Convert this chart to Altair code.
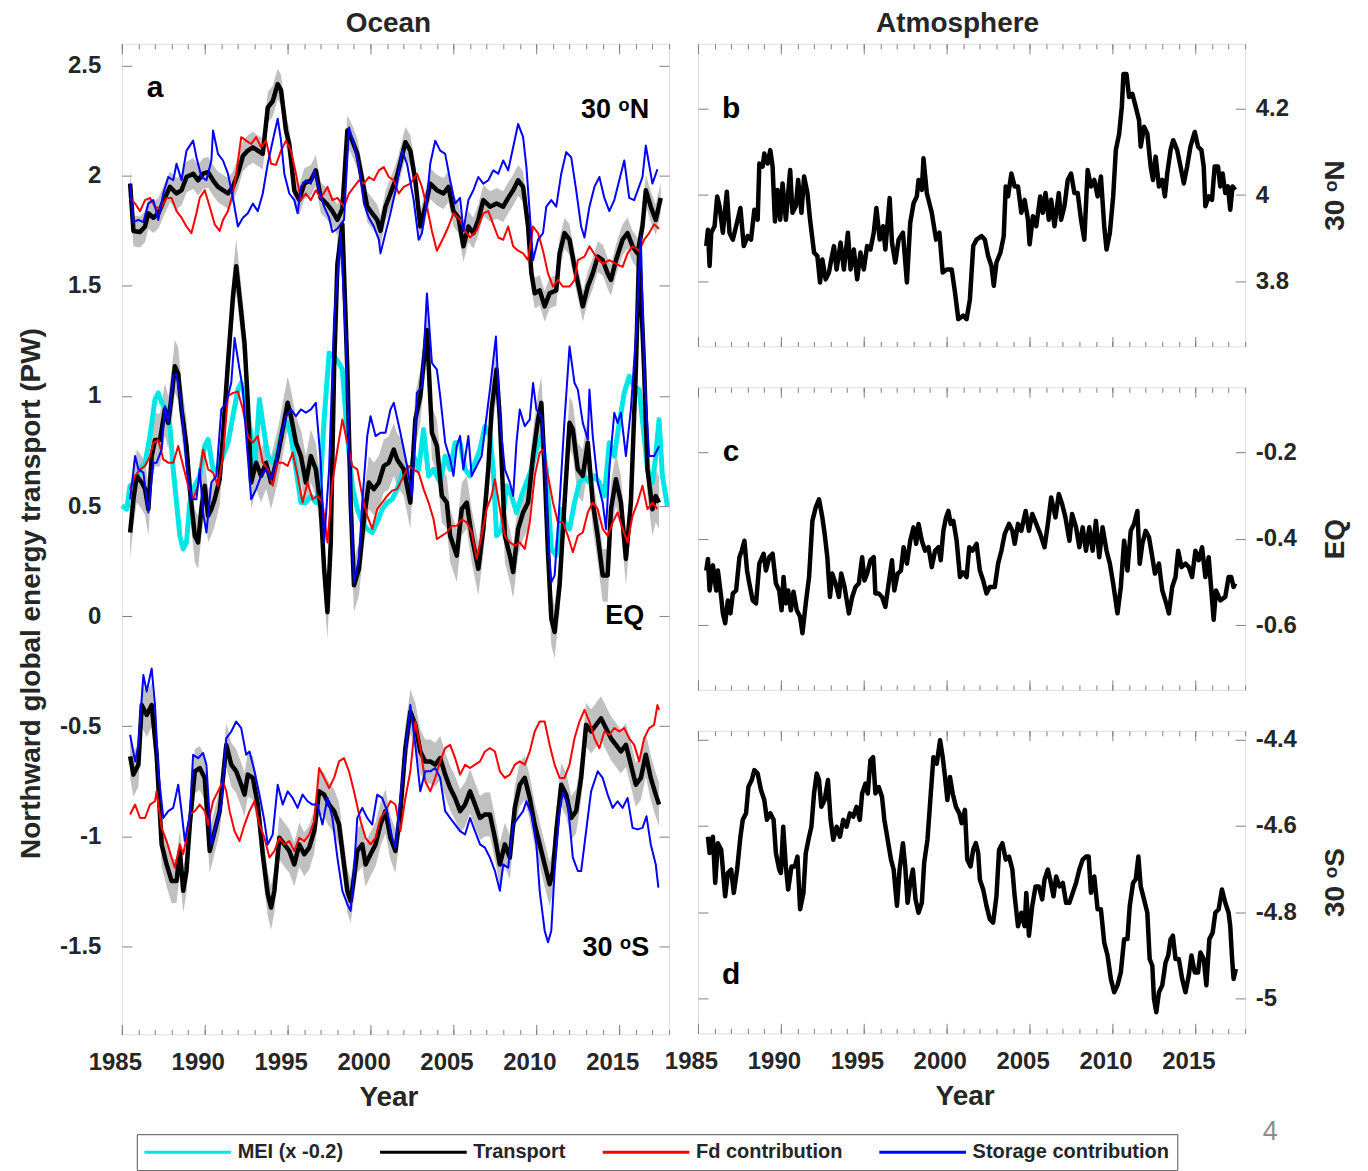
import altair as alt
import pandas as pd

FONT = "Liberation Sans"
TXT = "#262626"
AXC = "#7f7f7f"

# ---------------- axes / categories ----------------
X_DOMAIN = [1985, 2018]
YEAR_MAJOR = [1985, 1990, 1995, 2000, 2005, 2010, 2015]
YEAR_MINOR = list(range(1985, 2019))
OCEAN_Y_DOMAIN = [-1.9, 2.6]
OCEAN_Y_TICKS = [-1.5, -1, -0.5, 0, 0.5, 1, 1.5, 2, 2.5]
ATM_B_DOMAIN = [3.65, 4.35]
ATM_B_TICKS = [3.8, 4, 4.2]
ATM_C_DOMAIN = [-0.75, -0.05]
ATM_C_TICKS = [-0.6, -0.4, -0.2]
ATM_D_DOMAIN = [-5.08, -4.38]
ATM_D_TICKS = [-5, -4.8, -4.6, -4.4]

SERIES = ["MEI (x -0.2)", "Transport", "Fd contribution", "Storage contribution"]
COLORS = ["#00e6e6", "#000000", "#ff0000", "#0000ff"]
BAND_HALF = {"30N": 0.07, "EQ": 0.12, "30S": 0.10}

# ---------------- ocean, 30N ----------------
T_30N = [(1985.5,1.965),(1985.7,1.75),(1986.1,1.745),(1986.4,1.77),(1986.6,1.83),(1986.9,1.81),(1987.2,1.83),(1987.6,1.90),(1987.9,1.95),(1988.3,1.92),(1988.6,1.935),(1988.9,1.995),(1989.3,2.01),(1989.6,1.98),(1989.9,2.01),(1990.2,2.017),(1990.5,1.98),(1990.8,1.95),(1991.1,1.935),(1991.4,1.92),(1991.7,1.95),(1992.0,2.01),(1992.3,2.09),(1992.6,2.115),(1992.9,2.13),(1993.2,2.115),(1993.5,2.10),(1993.8,2.31),(1994.1,2.34),(1994.4,2.417),(1994.6,2.39),(1994.9,2.206),(1995.1,2.145),(1995.4,1.935),(1995.7,1.89),(1996.0,1.965),(1996.4,1.98),(1996.7,2.025),(1997.0,1.90),(1997.4,1.87),(1997.7,1.84),(1998.0,1.80),(1998.3,1.85),(1998.6,2.206),(1998.9,2.16),(1999.2,2.10),(1999.5,1.98),(1999.8,1.86),(2000.1,1.83),(2000.4,1.80),(2000.6,1.75),(2000.9,1.86),(2001.2,1.92),(2001.6,2.0),(2002.1,2.153),(2002.4,2.115),(2002.7,1.98),(2003.0,1.77),(2003.3,1.86),(2003.6,1.965),(2004.0,1.935),(2004.4,1.92),(2004.7,1.95),(2005.0,1.84),(2005.3,1.81),(2005.6,1.68),(2005.9,1.77),(2006.2,1.74),(2006.5,1.80),(2006.8,1.89),(2007.2,1.86),(2007.6,1.875),(2008.0,1.86),(2008.3,1.90),(2008.6,1.935),(2008.9,1.98),(2009.2,1.95),(2009.5,1.77),(2009.7,1.557),(2009.9,1.467),(2010.2,1.48),(2010.5,1.407),(2010.8,1.467),(2011.2,1.48),(2011.4,1.648),(2011.7,1.74),(2012.0,1.71),(2012.3,1.587),(2012.6,1.48),(2012.8,1.407),(2013.1,1.497),(2013.4,1.557),(2013.7,1.633),(2014.0,1.617),(2014.3,1.557),(2014.5,1.527),(2014.8,1.617),(2015.2,1.71),(2015.5,1.74),(2015.8,1.68),(2016.1,1.648),(2016.4,1.77),(2016.6,1.935),(2016.9,1.86),(2017.2,1.80),(2017.5,1.90)]
F_30N = [(1985.5,1.90),(1985.8,1.874),(1986.1,1.84),(1986.4,1.89),(1986.7,1.90),(1987.0,1.86),(1987.3,1.85),(1987.7,1.90),(1988.0,1.90),(1988.3,1.84),(1988.6,1.81),(1988.9,1.77),(1989.2,1.74),(1989.5,1.83),(1989.7,1.90),(1990.0,1.935),(1990.3,1.86),(1990.6,1.78),(1990.9,1.75),(1991.1,1.80),(1991.4,1.84),(1991.7,1.92),(1991.9,2.01),(1992.2,2.176),(1992.5,2.16),(1992.8,2.145),(1993.1,2.176),(1993.4,2.13),(1993.7,2.16),(1994.0,2.055),(1994.3,2.05),(1994.6,2.115),(1994.9,2.16),(1995.2,2.115),(1995.5,2.01),(1995.8,1.89),(1996.1,1.92),(1996.4,1.89),(1996.7,1.935),(1997.0,1.90),(1997.4,1.95),(1997.7,1.89),(1998.0,1.90),(1998.4,1.86),(1998.7,1.92),(1999.0,1.95),(1999.3,1.98),(1999.6,1.965),(1999.9,1.995),(2000.2,1.98),(2000.5,2.025),(2000.8,2.04),(2001.1,1.995),(2001.4,1.98),(2001.7,1.92),(2002.0,1.95),(2002.4,1.965),(2002.8,2.01),(2003.1,1.95),(2003.4,1.86),(2003.7,1.75),(2004.0,1.66),(2004.4,1.72),(2004.7,1.77),(2005.0,1.83),(2005.4,1.80),(2005.7,1.75),(2006.0,1.72),(2006.4,1.75),(2006.8,1.83),(2007.1,1.84),(2007.4,1.78),(2007.7,1.72),(2008.0,1.71),(2008.3,1.77),(2008.6,1.68),(2008.9,1.66),(2009.2,1.648),(2009.5,1.617),(2009.8,1.77),(2010.1,1.74),(2010.4,1.66),(2010.7,1.557),(2011.0,1.497),(2011.3,1.527),(2011.6,1.497),(2012.0,1.497),(2012.3,1.527),(2012.5,1.617),(2012.9,1.633),(2013.2,1.68),(2013.6,1.633),(2014.0,1.60),(2014.4,1.617),(2014.8,1.60),(2015.2,1.587),(2015.5,1.648),(2015.8,1.68),(2016.2,1.66),(2016.5,1.71),(2016.8,1.74),(2017.1,1.78),(2017.4,1.76)]
S_30N = [(1985.5,1.965),(1985.7,1.79),(1986.0,1.80),(1986.3,1.79),(1986.6,1.874),(1986.9,1.89),(1987.2,1.80),(1987.5,1.92),(1987.8,1.995),(1988.1,1.98),(1988.3,2.055),(1988.6,1.98),(1988.9,2.115),(1989.3,2.16),(1989.5,2.085),(1989.8,1.995),(1990.1,1.98),(1990.4,2.07),(1990.5,2.206),(1990.8,2.10),(1991.1,2.07),(1991.4,2.01),(1991.7,1.90),(1992.0,1.77),(1992.3,1.81),(1992.6,1.83),(1992.9,1.874),(1993.2,1.84),(1993.5,1.92),(1993.8,2.055),(1994.1,2.16),(1994.4,2.26),(1994.6,2.16),(1994.8,2.01),(1995.1,1.92),(1995.4,1.89),(1995.6,1.83),(1995.8,1.95),(1996.1,1.98),(1996.4,1.965),(1996.6,2.025),(1996.9,1.935),(1997.2,1.86),(1997.5,1.81),(1997.7,1.745),(1998.0,1.76),(1998.4,1.80),(1998.7,2.22),(1999.0,2.145),(1999.3,2.04),(1999.6,1.874),(1999.9,1.81),(2000.2,1.77),(2000.5,1.71),(2000.6,1.648),(2000.9,1.74),(2001.2,1.83),(2001.6,1.965),(2001.9,2.115),(2002.2,2.055),(2002.6,1.89),(2002.9,1.71),(2003.1,1.74),(2003.4,1.89),(2003.6,2.055),(2003.9,2.16),(2004.2,2.115),(2004.5,2.10),(2004.8,1.98),(2005.1,1.874),(2005.4,1.90),(2005.6,1.75),(2005.9,1.89),(2006.2,1.935),(2006.5,1.995),(2006.8,1.965),(2007.1,1.98),(2007.4,2.025),(2007.7,2.01),(2008.0,2.07),(2008.3,2.025),(2008.6,2.13),(2008.9,2.236),(2009.2,2.176),(2009.4,2.04),(2009.6,1.83),(2009.8,1.617),(2010.1,1.71),(2010.4,1.74),(2010.6,1.86),(2010.9,1.89),(2011.2,1.86),(2011.5,2.01),(2011.8,2.108),(2012.1,2.085),(2012.4,1.935),(2012.7,1.77),(2012.9,1.72),(2013.2,1.86),(2013.5,1.95),(2013.8,1.995),(2014.1,1.90),(2014.4,1.84),(2014.7,1.89),(2015.0,1.98),(2015.3,2.07),(2015.6,1.90),(2015.9,1.89),(2016.4,1.995),(2016.6,2.138),(2017.0,1.965),(2017.3,2.03)]

# ---------------- ocean, EQ ----------------
MEI_EQ = [(1985.0,0.501),(1985.3,0.486),(1985.5,0.592),(1985.8,0.607),(1986.1,0.667),(1986.4,0.697),(1986.7,0.818),(1987.0,0.984),(1987.2,1.014),(1987.4,0.969),(1987.7,0.939),(1987.9,0.863),(1988.1,0.667),(1988.3,0.516),(1988.5,0.365),(1988.7,0.305),(1988.9,0.335),(1989.1,0.516),(1989.4,0.592),(1989.7,0.637),(1990.0,0.773),(1990.2,0.803),(1990.5,0.667),(1990.8,0.667),(1991.1,0.727),(1991.4,0.788),(1991.7,0.908),(1992.0,1.029),(1992.2,1.059),(1992.5,0.969),(1992.8,0.818),(1993.0,0.667),(1993.3,0.984),(1993.5,0.878),(1993.8,0.727),(1994.1,0.697),(1994.4,0.757),(1994.7,0.848),(1995.0,0.878),(1995.2,0.818),(1995.5,0.667),(1995.8,0.516),(1996.1,0.516),(1996.4,0.546),(1996.7,0.516),(1997.0,0.637),(1997.2,0.893),(1997.5,1.195),(1997.8,1.18),(1998.1,1.15),(1998.3,1.12),(1998.6,0.818),(1998.9,0.592),(1999.2,0.486),(1999.5,0.426),(1999.8,0.396),(2000.1,0.38),(2000.4,0.426),(2000.7,0.486),(2001.0,0.516),(2001.3,0.53),(2001.6,0.577),(2002.0,0.667),(2002.3,0.607),(2002.6,0.727),(2002.9,0.667),(2003.2,0.848),(2003.5,0.637),(2003.8,0.667),(2004.2,0.607),(2004.5,0.727),(2004.8,0.667),(2005.1,0.788),(2005.4,0.788),(2005.7,0.667),(2006.0,0.637),(2006.3,0.697),(2006.6,0.757),(2006.9,0.863),(2007.2,0.818),(2007.4,0.667),(2007.6,0.365),(2007.9,0.396),(2008.2,0.592),(2008.5,0.546),(2008.8,0.471),(2009.1,0.546),(2009.4,0.607),(2009.7,0.667),(2010.0,0.757),(2010.3,0.818),(2010.6,0.667),(2010.9,0.305),(2011.2,0.275),(2011.5,0.486),(2011.7,0.426),(2012.0,0.396),(2012.3,0.516),(2012.6,0.607),(2012.9,0.637),(2013.2,0.607),(2013.5,0.637),(2013.8,0.607),(2014.1,0.546),(2014.4,0.788),(2014.7,0.727),(2015.0,0.878),(2015.3,1.014),(2015.6,1.09),(2015.9,1.044),(2016.2,1.029),(2016.5,0.818),(2016.7,0.667),(2017.0,0.607),(2017.2,0.727),(2017.4,0.893),(2017.6,0.637),(2017.9,0.501)]
T_EQ = [(1985.5,0.38),(1985.7,0.53),(1985.9,0.637),(1986.2,0.607),(1986.4,0.577),(1986.6,0.486),(1986.8,0.727),(1987.0,0.80),(1987.3,0.80),(1987.6,0.939),(1987.8,0.878),(1988.0,0.999),(1988.2,1.135),(1988.4,1.10),(1988.6,0.939),(1988.9,0.773),(1989.1,0.577),(1989.4,0.365),(1989.6,0.335),(1989.8,0.486),(1990.0,0.592),(1990.2,0.456),(1990.4,0.486),(1990.6,0.531),(1990.9,0.622),(1991.1,0.818),(1991.4,1.15),(1991.7,1.451),(1991.9,1.59),(1992.1,1.45),(1992.4,1.24),(1992.6,0.969),(1992.8,0.607),(1993.1,0.697),(1993.4,0.637),(1993.7,0.697),(1994.0,0.607),(1994.4,0.727),(1994.7,0.848),(1995.0,0.969),(1995.2,0.908),(1995.5,0.788),(1995.8,0.727),(1996.1,0.607),(1996.4,0.727),(1996.7,0.667),(1997.0,0.486),(1997.2,0.215),(1997.4,0.018),(1997.6,0.335),(1997.8,1.12),(1998.0,1.6),(1998.3,1.78),(1998.6,1.12),(1998.8,0.516),(1999.0,0.14),(1999.3,0.215),(1999.6,0.44),(1999.9,0.607),(2000.2,0.577),(2000.5,0.607),(2000.8,0.682),(2001.1,0.697),(2001.4,0.757),(2001.6,0.712),(2002.0,0.667),(2002.4,0.516),(2002.7,0.893),(2003.0,0.999),(2003.4,1.30),(2003.7,0.833),(2004.0,0.773),(2004.3,0.546),(2004.6,0.516),(2004.8,0.365),(2005.2,0.275),(2005.5,0.486),(2005.8,0.516),(2006.1,0.365),(2006.5,0.215),(2006.8,0.396),(2007.1,0.667),(2007.3,0.939),(2007.6,1.12),(2007.8,0.893),(2008.1,0.365),(2008.4,0.275),(2008.6,0.2),(2008.9,0.396),(2009.2,0.471),(2009.5,0.516),(2009.8,0.727),(2010.1,0.893),(2010.3,0.969),(2010.5,0.667),(2010.7,0.29),(2010.9,-0.012),(2011.1,-0.072),(2011.4,0.14),(2011.7,0.516),(2012.0,0.878),(2012.2,0.848),(2012.5,0.667),(2012.8,0.637),(2013.1,0.788),(2013.4,0.516),(2013.7,0.365),(2014.0,0.185),(2014.3,0.185),(2014.5,0.486),(2014.8,0.622),(2015.1,0.516),(2015.4,0.26),(2015.7,0.516),(2016.0,1.12),(2016.2,1.66),(2016.5,1.12),(2016.7,0.667),(2017.0,0.486),(2017.2,0.546),(2017.4,0.516)]
F_EQ = [(1985.5,0.577),(1985.8,0.637),(1986.1,0.667),(1986.4,0.682),(1986.7,0.727),(1986.9,0.788),(1987.2,0.80),(1987.5,0.712),(1987.8,0.697),(1988.1,0.697),(1988.4,0.773),(1988.7,0.682),(1989.0,0.592),(1989.3,0.531),(1989.6,0.592),(1989.9,0.757),(1990.2,0.667),(1990.5,0.652),(1990.8,0.592),(1991.1,0.727),(1991.4,0.999),(1991.7,1.014),(1992.0,1.02),(1992.3,0.939),(1992.6,0.818),(1992.9,0.788),(1993.2,0.818),(1993.5,0.697),(1993.8,0.667),(1994.1,0.592),(1994.4,0.697),(1994.7,0.697),(1995.0,0.682),(1995.3,0.742),(1995.6,0.637),(1995.9,0.516),(1996.2,0.607),(1996.5,0.531),(1996.8,0.546),(1997.1,0.516),(1997.4,0.335),(1997.7,0.607),(1998.0,0.757),(1998.3,0.893),(1998.6,0.788),(1998.9,0.682),(1999.2,0.667),(1999.5,0.546),(1999.8,0.456),(2000.1,0.396),(2000.4,0.486),(2000.7,0.516),(2001.0,0.546),(2001.3,0.57),(2001.6,0.577),(2002.0,0.637),(2002.3,0.682),(2002.6,0.667),(2002.9,0.652),(2003.2,0.577),(2003.5,0.516),(2003.8,0.44),(2004.0,0.35),(2004.3,0.365),(2004.6,0.38),(2004.9,0.41),(2005.2,0.41),(2005.5,0.44),(2005.8,0.426),(2006.1,0.38),(2006.4,0.26),(2006.7,0.365),(2007.0,0.486),(2007.3,0.546),(2007.5,0.622),(2007.8,0.486),(2008.1,0.365),(2008.4,0.335),(2008.7,0.32),(2009.0,0.335),(2009.3,0.305),(2009.6,0.426),(2009.9,0.637),(2010.2,0.742),(2010.4,0.757),(2010.7,0.637),(2011.0,0.516),(2011.3,0.426),(2011.6,0.426),(2011.9,0.365),(2012.2,0.29),(2012.5,0.365),(2012.8,0.38),(2013.1,0.471),(2013.4,0.516),(2013.7,0.486),(2014.0,0.396),(2014.3,0.365),(2014.6,0.426),(2014.9,0.471),(2015.2,0.396),(2015.5,0.335),(2015.8,0.456),(2016.1,0.516),(2016.4,0.592),(2016.7,0.486),(2017.0,0.516),(2017.3,0.486)]
S_EQ = [(1985.5,0.531),(1985.8,0.727),(1986.0,0.667),(1986.3,0.652),(1986.6,0.471),(1986.9,0.697),(1987.1,0.697),(1987.4,0.757),(1987.6,0.954),(1987.8,0.878),(1988.1,1.09),(1988.3,1.10),(1988.6,0.954),(1988.9,0.682),(1989.2,0.531),(1989.5,0.531),(1989.7,0.667),(1989.9,0.471),(1990.1,0.38),(1990.4,0.607),(1990.7,0.637),(1991.0,0.939),(1991.3,0.969),(1991.6,1.06),(1991.8,1.263),(1992.1,1.12),(1992.3,1.03),(1992.5,0.818),(1992.8,0.531),(1993.1,0.577),(1993.4,0.637),(1993.7,0.667),(1994.0,0.622),(1994.3,0.697),(1994.6,0.818),(1994.9,0.908),(1995.2,0.939),(1995.5,0.908),(1995.8,0.939),(1996.1,0.924),(1996.4,0.939),(1996.7,0.969),(1997.0,0.697),(1997.2,0.335),(1997.5,0.667),(1997.8,1.346),(1998.2,1.74),(1998.5,1.27),(1998.8,0.516),(1999.0,0.154),(1999.3,0.26),(1999.5,0.516),(1999.8,0.818),(2000.0,0.908),(2000.3,0.818),(2000.6,0.833),(2000.9,0.833),(2001.2,0.939),(2001.4,0.969),(2001.8,0.833),(2002.2,0.682),(2002.5,0.546),(2002.8,1.014),(2003.1,1.044),(2003.4,1.466),(2003.7,1.15),(2004.0,1.12),(2004.2,1.0),(2004.5,0.788),(2004.8,0.712),(2005.0,0.637),(2005.2,0.773),(2005.4,0.818),(2005.6,0.667),(2005.9,0.818),(2006.1,0.637),(2006.4,0.682),(2006.7,0.727),(2006.9,0.848),(2007.2,1.029),(2007.56,1.27),(2007.8,0.893),(2008.1,0.667),(2008.4,0.607),(2008.6,0.546),(2008.8,0.788),(2009.0,0.939),(2009.3,0.863),(2009.6,0.893),(2009.8,1.059),(2010.0,0.939),(2010.3,0.908),(2010.5,0.742),(2010.7,0.365),(2010.9,0.154),(2011.1,0.185),(2011.4,0.516),(2011.7,0.893),(2012.0,1.225),(2012.3,1.059),(2012.5,1.029),(2012.8,0.878),(2013.1,0.803),(2013.2,1.029),(2013.4,0.818),(2013.7,0.607),(2014.0,0.516),(2014.2,0.396),(2014.4,0.667),(2014.7,0.924),(2014.9,0.878),(2015.1,0.924),(2015.4,0.727),(2015.7,0.939),(2016.0,1.27),(2016.3,1.72),(2016.5,1.12),(2016.8,0.727),(2017.1,0.727),(2017.4,0.772)]

# ---------------- ocean, 30S ----------------
T_30S = [(1985.5,-0.637),(1985.7,-0.72),(1986.0,-0.675),(1986.2,-0.404),(1986.5,-0.449),(1986.8,-0.404),(1987.1,-0.63),(1987.4,-1.037),(1987.7,-1.128),(1988.0,-1.203),(1988.3,-1.203),(1988.5,-1.067),(1988.7,-1.248),(1988.9,-1.158),(1989.1,-0.947),(1989.4,-0.705),(1989.7,-0.69),(1990.0,-0.735),(1990.3,-1.067),(1990.6,-0.977),(1990.9,-0.886),(1991.1,-0.735),(1991.3,-0.585),(1991.6,-0.675),(1991.9,-0.705),(1992.2,-0.766),(1992.4,-0.811),(1992.6,-0.72),(1992.9,-0.735),(1993.2,-0.856),(1993.5,-1.082),(1993.8,-1.263),(1994.0,-1.324),(1994.2,-1.248),(1994.5,-1.007),(1994.8,-1.037),(1995.1,-1.067),(1995.4,-1.128),(1995.7,-1.037),(1996.0,-1.082),(1996.3,-1.052),(1996.6,-0.977),(1996.9,-0.796),(1997.2,-0.811),(1997.5,-0.856),(1997.8,-0.886),(1998.1,-0.947),(1998.4,-1.128),(1998.6,-1.248),(1998.8,-1.294),(1999.0,-1.188),(1999.2,-1.067),(1999.5,-1.037),(1999.7,-1.128),(2000.0,-1.082),(2000.3,-1.037),(2000.6,-0.947),(2000.9,-0.886),(2001.2,-1.007),(2001.5,-1.067),(2001.8,-0.886),(2002.1,-0.6),(2002.4,-0.434),(2002.7,-0.494),(2003.0,-0.615),(2003.3,-0.66),(2003.6,-0.66),(2003.9,-0.675),(2004.2,-0.645),(2004.5,-0.72),(2004.8,-0.781),(2005.1,-0.826),(2005.4,-0.886),(2005.7,-0.856),(2006.0,-0.796),(2006.3,-0.856),(2006.6,-0.917),(2006.9,-0.901),(2007.2,-0.901),(2007.5,-1.007),(2007.8,-1.128),(2008.1,-1.037),(2008.4,-1.097),(2008.7,-0.871),(2009.0,-0.766),(2009.3,-0.735),(2009.6,-0.826),(2009.9,-0.947),(2010.2,-1.037),(2010.5,-1.128),(2010.8,-1.218),(2011.0,-1.158),(2011.2,-0.977),(2011.5,-0.766),(2011.8,-0.811),(2012.1,-0.917),(2012.4,-0.886),(2012.7,-0.735),(2013.0,-0.494),(2013.3,-0.524),(2013.6,-0.494),(2013.9,-0.464),(2014.2,-0.509),(2014.5,-0.555),(2014.8,-0.585),(2015.1,-0.615),(2015.4,-0.585),(2015.7,-0.675),(2016.0,-0.766),(2016.3,-0.735),(2016.6,-0.63),(2016.9,-0.735),(2017.2,-0.811),(2017.4,-0.856)]
F_30S = [(1985.5,-0.901),(1985.8,-0.856),(1986.1,-0.917),(1986.4,-0.917),(1986.7,-0.856),(1987.0,-0.841),(1987.1,-0.796),(1987.4,-0.962),(1987.7,-1.022),(1988.0,-1.097),(1988.2,-1.143),(1988.5,-1.037),(1988.7,-1.082),(1988.9,-1.007),(1989.1,-0.901),(1989.4,-0.886),(1989.7,-0.856),(1990.0,-0.886),(1990.2,-0.947),(1990.5,-0.841),(1990.8,-0.796),(1991.1,-0.75),(1991.3,-0.796),(1991.5,-0.886),(1991.8,-0.977),(1992.1,-1.022),(1992.4,-0.947),(1992.7,-0.886),(1993.0,-0.841),(1993.3,-0.947),(1993.6,-1.007),(1993.9,-1.097),(1994.2,-1.067),(1994.5,-1.007),(1994.8,-1.037),(1995.1,-1.022),(1995.4,-1.067),(1995.7,-1.007),(1996.0,-1.022),(1996.3,-0.992),(1996.6,-0.932),(1996.9,-0.69),(1997.2,-0.735),(1997.5,-0.781),(1997.8,-0.735),(1998.1,-0.66),(1998.4,-0.645),(1998.7,-0.705),(1999.0,-0.796),(1999.4,-0.932),(1999.7,-1.007),(2000.0,-1.037),(2000.3,-1.007),(2000.6,-0.917),(2000.9,-0.886),(2001.2,-0.84),(2001.5,-0.856),(2001.8,-0.977),(2002.1,-0.826),(2002.4,-0.705),(2002.7,-0.479),(2003.0,-0.6),(2003.3,-0.75),(2003.6,-0.796),(2003.9,-0.735),(2004.2,-0.66),(2004.5,-0.6),(2004.8,-0.585),(2005.1,-0.645),(2005.4,-0.72),(2005.7,-0.675),(2006.0,-0.69),(2006.3,-0.675),(2006.6,-0.66),(2006.9,-0.615),(2007.2,-0.6),(2007.5,-0.615),(2007.8,-0.705),(2008.1,-0.735),(2008.4,-0.72),(2008.7,-0.675),(2009.0,-0.66),(2009.3,-0.675),(2009.6,-0.615),(2009.9,-0.524),(2010.2,-0.479),(2010.5,-0.479),(2010.8,-0.585),(2011.1,-0.675),(2011.4,-0.735),(2011.7,-0.735),(2012.0,-0.675),(2012.3,-0.555),(2012.6,-0.479),(2012.9,-0.426),(2013.2,-0.479),(2013.5,-0.555),(2013.8,-0.6),(2014.1,-0.524),(2014.4,-0.539),(2014.7,-0.509),(2015.0,-0.524),(2015.3,-0.509),(2015.6,-0.555),(2015.9,-0.585),(2016.2,-0.66),(2016.5,-0.555),(2016.8,-0.509),(2017.1,-0.494),(2017.3,-0.404),(2017.4,-0.426)]
S_30S = [(1985.5,-0.539),(1985.8,-0.66),(1986.0,-0.585),(1986.3,-0.268),(1986.5,-0.343),(1986.8,-0.238),(1987.0,-0.404),(1987.2,-0.705),(1987.5,-0.917),(1987.8,-0.886),(1988.1,-0.871),(1988.4,-0.766),(1988.6,-0.886),(1988.8,-1.022),(1989.1,-0.901),(1989.3,-0.63),(1989.6,-0.645),(1989.9,-0.622),(1990.1,-0.675),(1990.4,-1.037),(1990.7,-0.947),(1991.0,-0.856),(1991.3,-0.555),(1991.6,-0.524),(1991.9,-0.479),(1992.2,-0.509),(1992.5,-0.63),(1992.7,-0.615),(1993.0,-0.705),(1993.3,-0.811),(1993.6,-0.932),(1993.8,-1.037),(1994.1,-0.992),(1994.4,-0.766),(1994.7,-0.856),(1995.0,-0.796),(1995.3,-0.826),(1995.6,-0.871),(1995.9,-0.811),(1996.2,-0.841),(1996.5,-0.856),(1996.8,-0.856),(1997.1,-0.947),(1997.4,-0.826),(1997.7,-0.917),(1998.0,-1.097),(1998.3,-1.248),(1998.6,-1.309),(1998.8,-1.339),(1999.0,-1.158),(1999.2,-0.917),(1999.5,-0.871),(1999.8,-0.917),(2000.1,-0.947),(2000.4,-0.811),(2000.7,-0.826),(2001.0,-0.886),(2001.3,-1.007),(2001.5,-1.052),(2001.8,-0.826),(2002.1,-0.615),(2002.4,-0.404),(2002.7,-0.585),(2003.0,-0.796),(2003.3,-0.705),(2003.6,-0.705),(2003.9,-0.69),(2004.2,-0.735),(2004.5,-0.886),(2004.8,-0.917),(2005.1,-0.947),(2005.4,-0.977),(2005.7,-0.992),(2006.0,-0.917),(2006.3,-0.977),(2006.6,-1.037),(2006.9,-1.052),(2007.2,-1.097),(2007.5,-1.158),(2007.8,-1.248),(2008.0,-1.128),(2008.3,-1.143),(2008.6,-0.947),(2008.9,-0.917),(2009.2,-0.886),(2009.4,-0.841),(2009.7,-0.901),(2010.0,-1.037),(2010.2,-1.248),(2010.5,-1.429),(2010.7,-1.482),(2010.9,-1.429),(2011.1,-1.158),(2011.4,-0.886),(2011.6,-0.803),(2011.9,-0.856),(2012.2,-1.097),(2012.5,-1.158),(2012.7,-1.158),(2013.0,-0.977),(2013.3,-0.796),(2013.7,-0.705),(2014.0,-0.735),(2014.3,-0.811),(2014.6,-0.871),(2014.9,-0.841),(2015.2,-0.871),(2015.5,-0.826),(2015.8,-0.962),(2016.1,-0.969),(2016.4,-0.962),(2016.64,-0.909),(2016.9,-1.037),(2017.2,-1.128),(2017.36,-1.233)]

# ---------------- atmosphere ----------------
ATM_30N = [(1985.5,3.882),(1985.6,3.92),(1985.7,3.836),(1985.8,3.913),(1986.0,3.928),(1986.16,3.997),(1986.3,3.974),(1986.5,3.913),(1986.74,4.008),(1986.9,3.913),(1987.1,3.897),(1987.3,3.928),(1987.56,3.97),(1987.76,3.882),(1988.0,3.905),(1988.2,3.897),(1988.4,3.966),(1988.6,3.943),(1988.7,4.073),(1988.9,4.066),(1989.0,4.096),(1989.2,4.073),(1989.36,4.104),(1989.5,4.066),(1989.64,3.939),(1989.8,4.012),(1989.96,3.943),(1990.1,4.027),(1990.3,3.943),(1990.56,4.058),(1990.7,3.959),(1990.9,3.974),(1991.04,4.035),(1991.24,3.959),(1991.4,4.043),(1991.6,4.005),(1991.76,3.943),(1992.0,3.867),(1992.2,3.859),(1992.36,3.798),(1992.5,3.851),(1992.7,3.805),(1992.9,3.821),(1993.04,3.851),(1993.2,3.882),(1993.36,3.828),(1993.6,3.89),(1993.8,3.828),(1994.04,3.913),(1994.2,3.828),(1994.4,3.874),(1994.6,3.805),(1994.8,3.867),(1995.0,3.828),(1995.2,3.882),(1995.4,3.874),(1995.6,3.913),(1995.76,3.97),(1995.96,3.897),(1996.16,3.928),(1996.3,3.874),(1996.56,3.993),(1996.7,3.89),(1996.9,3.844),(1997.1,3.897),(1997.36,3.913),(1997.6,3.798),(1997.8,3.936),(1998.0,3.981),(1998.2,3.997),(1998.3,4.035),(1998.5,4.012),(1998.6,4.085),(1998.8,4.005),(1999.1,3.959),(1999.36,3.897),(1999.56,3.913),(1999.76,3.821),(2000.0,3.828),(2000.3,3.828),(2000.5,3.775),(2000.7,3.713),(2001.0,3.721),(2001.2,3.713),(2001.4,3.759),(2001.6,3.882),(2001.8,3.897),(2002.1,3.905),(2002.3,3.897),(2002.5,3.859),(2002.7,3.836),(2002.84,3.79),(2003.0,3.844),(2003.24,3.867),(2003.44,3.905),(2003.56,4.02),(2003.7,3.997),(2003.9,4.05),(2004.1,4.02),(2004.3,4.02),(2004.5,3.959),(2004.7,3.989),(2004.9,3.943),(2005.0,3.886),(2005.2,3.951),(2005.4,3.928),(2005.64,3.997),(2005.8,3.959),(2005.96,4.005),(2006.16,3.943),(2006.3,3.989),(2006.5,3.928),(2006.76,4.005),(2006.9,3.943),(2007.1,3.974),(2007.3,4.035),(2007.5,4.05),(2007.7,4.005),(2007.9,4.005),(2008.1,3.943),(2008.3,3.897),(2008.5,4.058),(2008.7,4.02),(2008.9,4.035),(2009.1,3.997),(2009.3,4.043),(2009.5,3.928),(2009.64,3.874),(2009.84,3.913),(2010.04,3.997),(2010.2,4.104),(2010.4,4.142),(2010.56,4.204),(2010.66,4.28),(2010.84,4.28),(2011.0,4.227),(2011.2,4.234),(2011.4,4.204),(2011.6,4.173),(2011.7,4.112),(2011.9,4.158),(2012.1,4.142),(2012.3,4.066),(2012.44,4.035),(2012.6,4.089),(2012.8,4.02),(2013.0,4.035),(2013.16,3.997),(2013.3,4.05),(2013.5,4.104),(2013.66,4.127),(2013.9,4.104),(2014.1,4.066),(2014.3,4.027),(2014.5,4.066),(2014.7,4.112),(2014.96,4.146),(2015.16,4.112),(2015.36,4.104),(2015.5,4.066),(2015.6,3.974),(2015.8,3.997),(2016.0,3.989),(2016.16,4.066),(2016.36,4.066),(2016.5,4.02),(2016.64,4.05),(2016.8,4.005),(2016.96,4.02),(2017.1,3.966),(2017.24,4.02),(2017.4,4.012)]
ATM_EQ = [(1985.5,-0.474),(1985.6,-0.447),(1985.7,-0.52),(1985.9,-0.462),(1986.1,-0.52),(1986.2,-0.474),(1986.4,-0.535),(1986.5,-0.573),(1986.64,-0.596),(1986.8,-0.543),(1986.96,-0.573),(1987.1,-0.527),(1987.3,-0.52),(1987.5,-0.443),(1987.64,-0.428),(1987.8,-0.405),(1987.96,-0.474),(1988.1,-0.504),(1988.3,-0.543),(1988.5,-0.55),(1988.7,-0.458),(1988.96,-0.435),(1989.1,-0.474),(1989.3,-0.443),(1989.5,-0.435),(1989.7,-0.504),(1989.9,-0.52),(1990.04,-0.566),(1990.16,-0.489),(1990.3,-0.55),(1990.44,-0.52),(1990.6,-0.566),(1990.76,-0.523),(1990.96,-0.566),(1991.16,-0.581),(1991.3,-0.619),(1991.5,-0.55),(1991.7,-0.489),(1991.9,-0.359),(1992.1,-0.328),(1992.3,-0.309),(1992.5,-0.351),(1992.64,-0.389),(1992.8,-0.443),(1992.96,-0.535),(1993.1,-0.481),(1993.3,-0.504),(1993.5,-0.535),(1993.64,-0.481),(1993.84,-0.512),(1994.1,-0.573),(1994.3,-0.535),(1994.5,-0.512),(1994.7,-0.504),(1994.9,-0.443),(1995.04,-0.497),(1995.2,-0.481),(1995.4,-0.45),(1995.6,-0.443),(1995.7,-0.527),(1995.9,-0.527),(1996.1,-0.535),(1996.3,-0.558),(1996.5,-0.504),(1996.7,-0.45),(1996.84,-0.52),(1997.04,-0.481),(1997.24,-0.474),(1997.4,-0.42),(1997.6,-0.458),(1997.8,-0.405),(1998.0,-0.374),(1998.16,-0.412),(1998.3,-0.366),(1998.5,-0.405),(1998.7,-0.428),(1998.9,-0.42),(1999.1,-0.466),(1999.3,-0.428),(1999.5,-0.42),(1999.64,-0.45),(1999.8,-0.382),(1999.96,-0.351),(2000.1,-0.336),(2000.24,-0.366),(2000.4,-0.359),(2000.6,-0.405),(2000.8,-0.489),(2001.0,-0.478),(2001.2,-0.489),(2001.36,-0.42),(2001.56,-0.428),(2001.8,-0.412),(2002.0,-0.474),(2002.2,-0.497),(2002.4,-0.527),(2002.6,-0.512),(2002.9,-0.512),(2003.1,-0.458),(2003.3,-0.428),(2003.5,-0.389),(2003.76,-0.366),(2003.96,-0.382),(2004.1,-0.412),(2004.3,-0.366),(2004.5,-0.382),(2004.76,-0.336),(2004.96,-0.382),(2005.16,-0.343),(2005.4,-0.366),(2005.64,-0.389),(2005.9,-0.42),(2006.1,-0.366),(2006.3,-0.305),(2006.56,-0.351),(2006.76,-0.297),(2006.96,-0.32),(2007.16,-0.351),(2007.4,-0.405),(2007.56,-0.343),(2007.8,-0.374),(2008.0,-0.42),(2008.2,-0.374),(2008.4,-0.428),(2008.6,-0.374),(2008.8,-0.428),(2009.0,-0.359),(2009.2,-0.443),(2009.4,-0.374),(2009.64,-0.428),(2009.84,-0.458),(2010.04,-0.504),(2010.3,-0.573),(2010.5,-0.512),(2010.7,-0.405),(2010.9,-0.474),(2011.1,-0.382),(2011.3,-0.366),(2011.5,-0.336),(2011.64,-0.458),(2011.8,-0.412),(2012.0,-0.382),(2012.2,-0.397),(2012.4,-0.443),(2012.56,-0.481),(2012.8,-0.458),(2013.0,-0.52),(2013.24,-0.55),(2013.4,-0.573),(2013.6,-0.512),(2013.8,-0.489),(2013.96,-0.428),(2014.16,-0.466),(2014.4,-0.458),(2014.6,-0.466),(2014.8,-0.489),(2015.0,-0.428),(2015.2,-0.45),(2015.4,-0.42),(2015.6,-0.489),(2015.8,-0.443),(2015.96,-0.52),(2016.1,-0.588),(2016.24,-0.52),(2016.5,-0.543),(2016.8,-0.535),(2017.0,-0.489),(2017.16,-0.489),(2017.3,-0.512),(2017.4,-0.504)]
ATM_30S = [(1985.6,-4.625),(1985.7,-4.663),(1985.9,-4.625),(1986.04,-4.732),(1986.2,-4.64),(1986.4,-4.655),(1986.64,-4.763),(1986.8,-4.709),(1987.0,-4.701),(1987.16,-4.755),(1987.36,-4.701),(1987.56,-4.625),(1987.7,-4.586),(1987.9,-4.571),(1988.04,-4.51),(1988.24,-4.494),(1988.4,-4.471),(1988.6,-4.479),(1988.8,-4.517),(1989.0,-4.54),(1989.16,-4.586),(1989.36,-4.571),(1989.56,-4.586),(1989.7,-4.663),(1989.9,-4.701),(1990.0,-4.709),(1990.14,-4.602),(1990.3,-4.694),(1990.44,-4.747),(1990.64,-4.694),(1990.84,-4.694),(1991.0,-4.671),(1991.16,-4.793),(1991.36,-4.755),(1991.5,-4.663),(1991.7,-4.625),(1991.84,-4.602),(1992.0,-4.525),(1992.16,-4.479),(1992.3,-4.494),(1992.44,-4.556),(1992.64,-4.54),(1992.84,-4.494),(1993.0,-4.586),(1993.16,-4.632),(1993.36,-4.602),(1993.56,-4.625),(1993.76,-4.586),(1993.96,-4.602),(1994.16,-4.571),(1994.36,-4.579),(1994.56,-4.556),(1994.76,-4.586),(1994.9,-4.525),(1995.1,-4.502),(1995.24,-4.525),(1995.4,-4.448),(1995.56,-4.441),(1995.7,-4.525),(1995.9,-4.51),(1996.1,-4.533),(1996.24,-4.586),(1996.44,-4.632),(1996.64,-4.678),(1996.8,-4.701),(1997.0,-4.785),(1997.16,-4.701),(1997.36,-4.64),(1997.5,-4.694),(1997.64,-4.778),(1997.8,-4.732),(1997.96,-4.701),(1998.12,-4.77),(1998.3,-4.801),(1998.5,-4.778),(1998.64,-4.686),(1998.84,-4.632),(1999.04,-4.525),(1999.2,-4.441),(1999.4,-4.456),(1999.6,-4.402),(1999.76,-4.441),(1999.9,-4.487),(2000.04,-4.54),(2000.2,-4.487),(2000.36,-4.525),(2000.56,-4.556),(2000.76,-4.571),(2000.9,-4.594),(2001.1,-4.563),(2001.24,-4.678),(2001.44,-4.694),(2001.6,-4.655),(2001.76,-4.64),(2001.9,-4.663),(2002.0,-4.724),(2002.2,-4.747),(2002.4,-4.785),(2002.6,-4.816),(2002.8,-4.824),(2003.0,-4.763),(2003.16,-4.655),(2003.36,-4.64),(2003.56,-4.678),(2003.76,-4.671),(2003.96,-4.701),(2004.1,-4.763),(2004.3,-4.832),(2004.5,-4.801),(2004.7,-4.832),(2004.8,-4.755),(2004.96,-4.854),(2005.16,-4.785),(2005.36,-4.74),(2005.56,-4.74),(2005.76,-4.77),(2005.9,-4.724),(2006.1,-4.701),(2006.24,-4.724),(2006.44,-4.763),(2006.6,-4.717),(2006.8,-4.74),(2007.0,-4.732),(2007.2,-4.778),(2007.4,-4.778),(2007.6,-4.755),(2007.8,-4.732),(2008.0,-4.701),(2008.2,-4.678),(2008.4,-4.671),(2008.56,-4.671),(2008.7,-4.755),(2008.9,-4.717),(2009.1,-4.793),(2009.3,-4.793),(2009.5,-4.87),(2009.7,-4.9),(2009.9,-4.954),(2010.1,-4.985),(2010.3,-4.969),(2010.5,-4.939),(2010.7,-4.862),(2010.9,-4.862),(2011.04,-4.785),(2011.24,-4.732),(2011.4,-4.724),(2011.56,-4.671),(2011.7,-4.74),(2011.9,-4.77),(2012.1,-4.801),(2012.24,-4.908),(2012.4,-4.923),(2012.5,-5.0),(2012.64,-5.031),(2012.8,-4.985),(2013.0,-4.969),(2013.2,-4.916),(2013.36,-4.9),(2013.5,-4.862),(2013.64,-4.854),(2013.8,-4.908),(2014.0,-4.908),(2014.2,-4.954),(2014.4,-4.985),(2014.6,-4.946),(2014.76,-4.9),(2014.96,-4.939),(2015.16,-4.939),(2015.3,-4.893),(2015.5,-4.908),(2015.66,-4.969),(2015.84,-4.862),(2016.04,-4.847),(2016.2,-4.801),(2016.4,-4.793),(2016.6,-4.747),(2016.8,-4.778),(2017.0,-4.801),(2017.1,-4.832),(2017.2,-4.9),(2017.3,-4.954),(2017.44,-4.931)]


# ---------------- helpers ----------------
def rows(pairs, **extra):
    return [dict(year=x, value=v, **extra) for x, v in pairs]


def x_axis(orient, major, labels=False, title=None):
    size = 10 if major else 5
    kw = dict(orient=orient, values=YEAR_MAJOR if major else YEAR_MINOR, offset=-size,
              tickSize=size, tickColor=AXC, tickWidth=1, domain=False, grid=False,
              labels=labels, title=title)
    if labels:
        kw.update(labelExpr="toString(datum.value)", labelOffset=-7, labelPadding=16,
                  labelFlush=False, labelOverlap=False,
                  labelFont=FONT, labelFontSize=24, labelFontWeight="bold", labelColor=TXT)
    if title:
        kw.update(titleFont=FONT, titleFontSize=28, titleFontWeight="bold", titleColor=TXT,
                  titlePadding=9, titleX=267)
    return alt.Axis(**kw)


def y_axis(orient, values, labels=False, title=None, **extra):
    kw = dict(orient=orient, values=values, offset=-10, tickSize=10, tickColor=AXC,
              tickWidth=1, domain=False, grid=False, labels=labels, title=title)
    if labels:
        kw.update(labelExpr="toString(datum.value)", labelFont=FONT, labelFontSize=24,
                  labelFontWeight="bold", labelColor=TXT, labelFlush=False)
    if title:
        kw.update(titleFont=FONT, titleFontSize=28, titleFontWeight="bold", titleColor=TXT)
    kw.update(extra)
    return alt.Axis(**kw)


XS = alt.Scale(domain=X_DOMAIN, nice=False, zero=False)

# ---------------- ocean panel ----------------
ocean_rows = (rows(MEI_EQ, region="EQ", series=SERIES[0])
              + rows(T_30N, region="30N", series=SERIES[1]) + rows(T_EQ, region="EQ", series=SERIES[1]) + rows(T_30S, region="30S", series=SERIES[1])
              + rows(F_30N, region="30N", series=SERIES[2]) + rows(F_EQ, region="EQ", series=SERIES[2]) + rows(F_30S, region="30S", series=SERIES[2])
              + rows(S_30N, region="30N", series=SERIES[3]) + rows(S_EQ, region="EQ", series=SERIES[3]) + rows(S_30S, region="30S", series=SERIES[3]))
ocean = pd.DataFrame(ocean_rows)
band = ocean[ocean.series == SERIES[1]].copy()
band["lo"] = band.value - band.region.map(BAND_HALF)
band["hi"] = band.value + band.region.map(BAND_HALF)

YS_O = alt.Scale(domain=OCEAN_Y_DOMAIN, nice=False, zero=False)
COLOR_SCALE = alt.Scale(domain=SERIES, range=COLORS)
# long horizontal stroke symbol: path spans +-6.2 units, scaled by sqrt(size)/2 -> ~87 px long
LEGEND = alt.Legend(orient="none", legendX=15, legendY=1092, direction="horizontal", columns=4,
                    title=None, symbolType="M-6.2,0H6.2", symbolSize=196, symbolStrokeWidth=3,
                    symbolOffset=33, labelOffset=40,
                    labelFont=FONT, labelFontSize=20, labelFontWeight="bold", labelColor=TXT,
                    labelLimit=400, columnPadding=30, padding=8,
                    strokeColor="#555555", fillColor="white")


def ocean_line(series, width, xaxis=None, yaxis=None):
    return alt.Chart(ocean[ocean.series == series]).mark_line(strokeWidth=width, strokeJoin="round").encode(
        x=alt.X("year:Q", scale=XS, axis=xaxis),
        y=alt.Y("value:Q", scale=YS_O, axis=yaxis),
        color=alt.Color("series:N", scale=COLOR_SCALE, legend=LEGEND),
        detail="region:N",
    )


band_layer = alt.Chart(band).mark_area(color="#c0c0c0", opacity=1).encode(
    x=alt.X("year:Q", scale=XS, axis=x_axis("bottom", True, labels=True, title="Year")),
    y=alt.Y("lo:Q", scale=YS_O, axis=y_axis("left", OCEAN_Y_TICKS, labels=True,
                                          title="Northward global energy transport (PW)",
                                          labelPadding=21, titlePadding=14, titleY=550)),
    y2="hi:Q",
    detail="region:N",
)
mei_layer = ocean_line(SERIES[0], 5, xaxis=x_axis("bottom", False), yaxis=y_axis("right", OCEAN_Y_TICKS))
tr_layer = ocean_line(SERIES[1], 4.5, xaxis=x_axis("top", True))
fd_layer = ocean_line(SERIES[2], 2, xaxis=x_axis("top", False))
st_layer = ocean_line(SERIES[3], 2)

ANNOT_O = pd.DataFrame({"year": [1987.0], "value": [2.40], "label": ["a"]})
REGION_O = pd.DataFrame({"year": [2016.8, 2016.5, 2016.8], "value": [2.30, 0.0, -1.51],
                         "label": ["30 ᵒN", "EQ", "30 ᵒS"]})
a_text = alt.Chart(ANNOT_O).mark_text(font=FONT, fontSize=30, fontWeight="bold", color="black",
                                      align="center", baseline="middle").encode(
    x=alt.X("year:Q", scale=XS, axis=None), y=alt.Y("value:Q", scale=YS_O, axis=None), text="label:N")
reg_text = alt.Chart(REGION_O).mark_text(font=FONT, fontSize=27, fontWeight="bold", color="black",
                                         align="right", baseline="middle").encode(
    x=alt.X("year:Q", scale=XS, axis=None), y=alt.Y("value:Q", scale=YS_O, axis=None), text="label:N")

ocean_chart = alt.layer(band_layer, mei_layer, tr_layer, fd_layer, st_layer, a_text, reg_text).resolve_axis(
    x="independent", y="independent").properties(
    width=548, height=992,
    title=alt.Title("Ocean", font=FONT, fontSize=28, fontWeight="bold", color=TXT, dx=-7, dy=30,
                    offset=13, baseline="alphabetic", frame="group"))


# ---------------- atmosphere panels ----------------
def atm_panel(pairs, domain, ticks, letter, letter_val, ytitle, tpad, bottom_labels, title=None, extra=None):
    df = pd.DataFrame(rows(pairs))
    ys = alt.Scale(domain=domain, nice=False, zero=False)
    line = alt.Chart(df).mark_line(color="black", strokeWidth=4.5, strokeJoin="round").encode(
        x=alt.X("year:Q", scale=XS, axis=x_axis("bottom", True, labels=bottom_labels,
                                                title="Year" if bottom_labels else None)),
        y=alt.Y("value:Q", scale=ys, axis=y_axis("right", ticks, labels=True, title=ytitle,
                                                labelPadding=10, titlePadding=tpad, titleAngle=270,
                                                titleBaseline="top")),
    )
    ghost = pd.DataFrame({"year": [X_DOMAIN[0]], "value": [domain[0]]})

    def g(xa, ya):
        return alt.Chart(ghost).mark_point(opacity=0).encode(
            x=alt.X("year:Q", scale=XS, axis=xa), y=alt.Y("value:Q", scale=ys, axis=ya))

    lab = alt.Chart(pd.DataFrame({"year": [1987.0], "value": [letter_val], "label": [letter]})).mark_text(
        font=FONT, fontSize=30, fontWeight="bold", color="black", align="center", baseline="middle").encode(
        x=alt.X("year:Q", scale=XS, axis=None), y=alt.Y("value:Q", scale=ys, axis=None), text="label:N")
    layers = [line, g(x_axis("bottom", False), y_axis("left", ticks)), g(x_axis("top", True), None),
              g(x_axis("top", False), None), lab]
    if extra is not None:
        layers.append(extra)
    ch = alt.layer(*layers).resolve_axis(x="independent", y="independent").properties(width=548, height=303)
    if title:
        ch = ch.properties(title=alt.Title(title, font=FONT, fontSize=28, fontWeight="bold", color=TXT,
                                           dx=-14, dy=30, offset=13, baseline="alphabetic", frame="group"))
    return ch


page_no = alt.Chart(pd.DataFrame({"t": ["4"]})).mark_text(
    font=FONT, fontSize=27, color="#8c8c8c", align="center", baseline="middle").encode(
    x=alt.value(573), y=alt.value(402), text="t:N")

panel_b = atm_panel(ATM_30N, ATM_B_DOMAIN, ATM_B_TICKS, "b", 4.2, "30 ᵒN", 33, False, title="Atmosphere")
panel_c = atm_panel(ATM_EQ, ATM_C_DOMAIN, ATM_C_TICKS, "c", -0.2, "EQ", 25, False)
panel_d = atm_panel(ATM_30S, ATM_D_DOMAIN, ATM_D_TICKS, "d", -4.946, "30 ᵒS", 25, True, extra=page_no)

atm_col = alt.vconcat(panel_b, panel_c, panel_d, spacing=41, bounds="flush")

chart = alt.hconcat(ocean_chart, atm_col, spacing=29, bounds="flush").properties(
    padding={"left": 9, "top": 1, "right": 10, "bottom": 10}
).configure_view(stroke=AXC, strokeWidth=1).configure(background="white")

chart.save("out.html", embed_options={"renderer": "svg", "actions": False})
